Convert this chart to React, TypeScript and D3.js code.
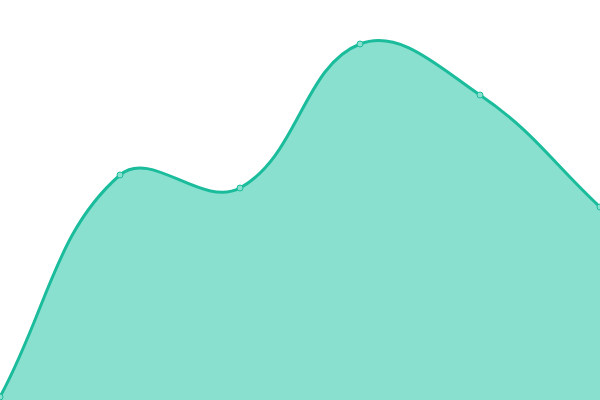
import React from "react";
import { path as d3path, scaleLinear, scalePoint } from "d3";

const labels = ["A", "B", "C", "D", "E", "F"];
const values = [3, 225, 212, 356, 305, 193];

const WIDTH = 600;
const HEIGHT = 400;
const TENSION = 0.4;

type Pt = { x: number; y: number };

// spline with distance-weighted control points (tension 0.4)
function splinePath(pts: Pt[], close?: number) {
    const p = d3path();
    const n = pts.length;
    const ctrl = pts.map((m, i) => {
        const prev = pts[Math.max(i - 1, 0)];
        const next = pts[Math.min(i + 1, n - 1)];
        const d01 = Math.hypot(m.x - prev.x, m.y - prev.y);
        const d12 = Math.hypot(next.x - m.x, next.y - m.y);
        const sum = d01 + d12 || 1;
        const fa = (TENSION * d01) / sum;
        const fb = (TENSION * d12) / sum;
        return {
            prev: { x: m.x - fa * (next.x - prev.x), y: m.y - fa * (next.y - prev.y) },
            next: { x: m.x + fb * (next.x - prev.x), y: m.y + fb * (next.y - prev.y) },
        };
    });
    p.moveTo(pts[0].x, pts[0].y);
    for (let i = 1; i < n; i++) {
        const c1 = ctrl[i - 1].next;
        const c2 = ctrl[i].prev;
        p.bezierCurveTo(c1.x, c1.y, c2.x, c2.y, pts[i].x, pts[i].y);
    }
    if (close !== undefined) {
        p.lineTo(pts[n - 1].x, close);
        p.lineTo(pts[0].x, close);
        p.closePath();
    }
    return p.toString();
}

const App: React.FC = () => {
    const x = scalePoint<string>().domain(labels).range([0, WIDTH]);
    const y = scaleLinear().domain([0, 400]).range([HEIGHT, 0]);

    const pts = labels.map((l, i) => ({ x: x(l)!, y: y(values[i]) }));

    return (
        <div style={{ position: "absolute", top: 0, left: 0 }}>
            <svg width={WIDTH} height={HEIGHT} style={{ display: "block" }}>
                <path d={splinePath(pts, HEIGHT)} fill="#8ae0cf" />
                <path d={splinePath(pts)} fill="none" stroke="#1abc9c" strokeWidth={3} />
                {pts.map((d, i) => (
                    <circle
                        key={labels[i]}
                        cx={d.x}
                        cy={d.y}
                        r={3}
                        fill="#8ae0cf"
                        stroke="#1abc9c"
                        strokeWidth={1}
                    />
                ))}
            </svg>
        </div>
    );
};

export default App;
